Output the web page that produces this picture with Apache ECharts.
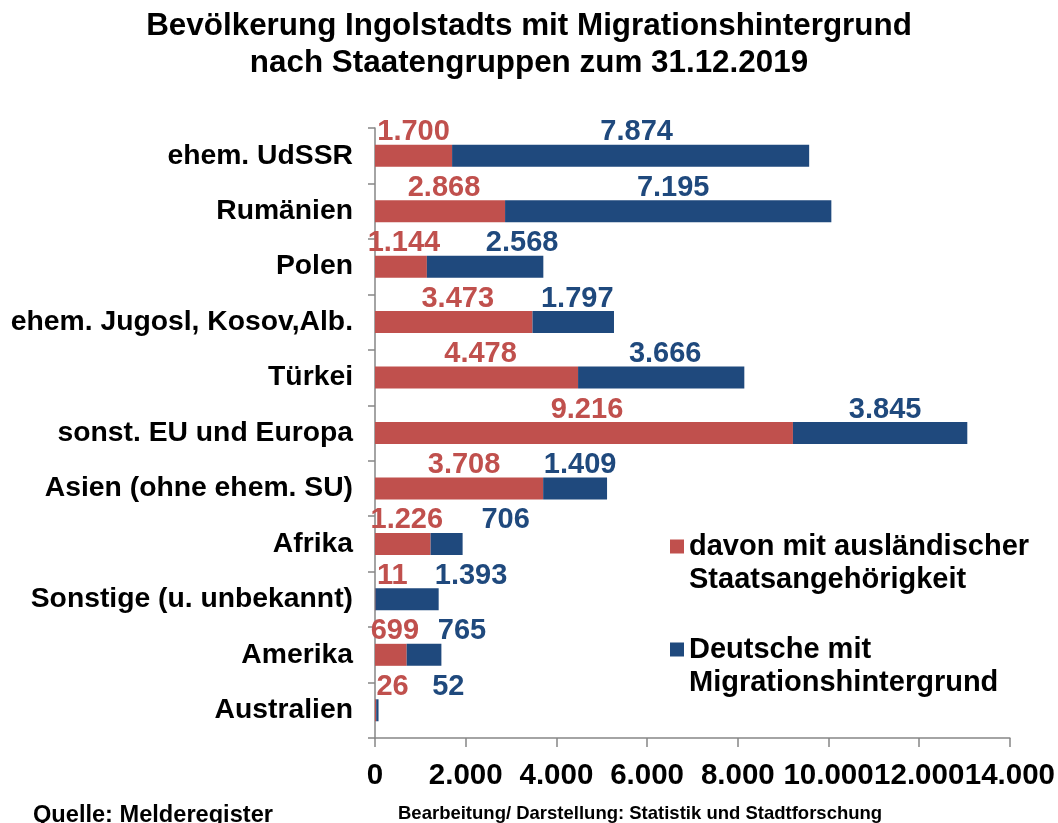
<!DOCTYPE html>
<html>
<head>
<meta charset="utf-8">
<title>Bevölkerung Ingolstadts mit Migrationshintergrund</title>
<script src="https://cdn.jsdelivr.net/npm/echarts@6/dist/echarts.min.js"></script>
<style>
html,body{margin:0;padding:0;background:#fff;}
#main{width:1058px;height:823px;}
</style>
</head>
<body>
<div id="main"></div>
<script>
// Staatengruppen
var categories = ['ehem. UdSSR', 'Rumänien', 'Polen', 'ehem. Jugosl, Kosov,Alb.', 'Türkei',
    'sonst. EU und Europa', 'Asien (ohne ehem. SU)', 'Afrika', 'Sonstige (u. unbekannt)', 'Amerika', 'Australien'];
// davon mit ausländischer Staatsangehörigkeit
var auslaender = [1700, 2868, 1144, 3473, 4478, 9216, 3708, 1226, 11, 699, 26];
// Deutsche mit Migrationshintergrund
var deutsche = [7874, 7195, 2568, 1797, 3666, 3845, 1409, 706, 1393, 765, 52];
// x-Achse
var xTicks = [0, 2000, 4000, 6000, 8000, 10000, 12000, 14000];

// Label-Verschiebung (wie im Original von Hand verschoben)
var redDx = [0, 4, 3, 4, 4, 3, 5, 4, 17, 4, 17];
var blueDx = [6, 5, 37, 4, 4, 5, 5, 59, 64, 38, 71];

var FONT = 'Liberation Sans, Arial, sans-serif';
var RED = '#C0504D';
var BLUE = '#1F497D';

function fmt(v) {
    return String(v).replace(/\B(?=(\d{3})+(?!\d))/g, '.');
}

function buildData(values, dx) {
    return values.map(function (v, i) {
        return {value: v, label: {offset: [dx[i], 0]}};
    });
}

var myChart = echarts.init(document.getElementById('main'));

var legendText = {
    fontFamily: FONT,
    fontWeight: 'bold',
    fontSize: 29,
    lineHeight: 33,
    color: '#000'
};
// leere erste Zeile, damit das Kästchen neben der ersten Textzeile steht
function legendFmt(name) {
    return ' \n' + name;
}

var option = {
    animation: false,
    textStyle: {fontFamily: FONT},
    title: [
        {
            text: 'Bevölkerung Ingolstadts mit Migrationshintergrund\nnach Staatengruppen zum 31.12.2019',
            left: 'center',
            top: 8,
            padding: 0,
            textStyle: {fontFamily: FONT, fontWeight: 'bold', fontSize: 31.4, lineHeight: 37, color: '#000'}
        },
        {
            text: 'Quelle: Melderegister',
            left: 33,
            top: 803,
            padding: 0,
            textStyle: {fontFamily: FONT, fontWeight: 'bold', fontSize: 23.6, color: '#000'}
        },
        {
            text: 'Bearbeitung/ Darstellung: Statistik und Stadtforschung',
            left: 398,
            top: 804,
            padding: 0,
            textStyle: {fontFamily: FONT, fontWeight: 'bold', fontSize: 18.5, color: '#000'}
        }
    ],
    legend: [
        {
            data: ['davon mit ausländischer\nStaatsangehörigkeit'],
            left: 670,
            top: 497,
            padding: 0,
            itemWidth: 14,
            itemHeight: 14,
            itemGap: 0,
            icon: 'rect',
            formatter: legendFmt,
            textStyle: legendText
        },
        {
            data: ['Deutsche mit\nMigrationshintergrund'],
            left: 670,
            top: 600,
            padding: 0,
            itemWidth: 14,
            itemHeight: 14,
            itemGap: 0,
            icon: 'rect',
            formatter: legendFmt,
            textStyle: legendText
        }
    ],
    grid: {
        left: 375,
        right: 46,
        top: 128,
        bottom: 85
    },
    xAxis: {
        type: 'value',
        min: xTicks[0],
        max: xTicks[xTicks.length - 1],
        interval: xTicks[1] - xTicks[0],
        splitLine: {show: false},
        axisLine: {show: true, lineStyle: {color: '#868686', width: 1.5}},
        axisTick: {show: true, length: 9, lineStyle: {color: '#868686', width: 1.5}},
        axisLabel: {
            margin: 23,
            fontFamily: FONT,
            fontWeight: 'bold',
            fontSize: 29.5,
            color: '#000',
            formatter: function (v) { return fmt(v); }
        }
    },
    yAxis: {
        type: 'category',
        inverse: true,
        data: categories,
        axisLine: {show: true, lineStyle: {color: '#868686', width: 1.5}},
        axisTick: {show: true, length: 7, lineStyle: {color: '#868686', width: 1.5}},
        axisLabel: {
            margin: 22,
            fontFamily: FONT,
            fontWeight: 'bold',
            fontSize: 28.3,
            color: '#000'
        }
    },
    series: [
        {
            name: 'davon mit ausländischer\nStaatsangehörigkeit',
            type: 'bar',
            stack: 'gesamt',
            barWidth: 22,
            itemStyle: {color: RED},
            label: {
                show: true,
                position: 'top',
                distance: -2,
                fontFamily: FONT,
                fontWeight: 'bold',
                fontSize: 29,
                color: RED,
                formatter: function (p) { return fmt(p.value); }
            },
            data: buildData(auslaender, redDx)
        },
        {
            name: 'Deutsche mit\nMigrationshintergrund',
            type: 'bar',
            stack: 'gesamt',
            barWidth: 22,
            itemStyle: {color: BLUE},
            label: {
                show: true,
                position: 'top',
                distance: -2,
                fontFamily: FONT,
                fontWeight: 'bold',
                fontSize: 29,
                color: BLUE,
                formatter: function (p) { return fmt(p.value); }
            },
            data: buildData(deutsche, blueDx)
        }
    ]
};

myChart.setOption(option);
</script>
</body>
</html>
